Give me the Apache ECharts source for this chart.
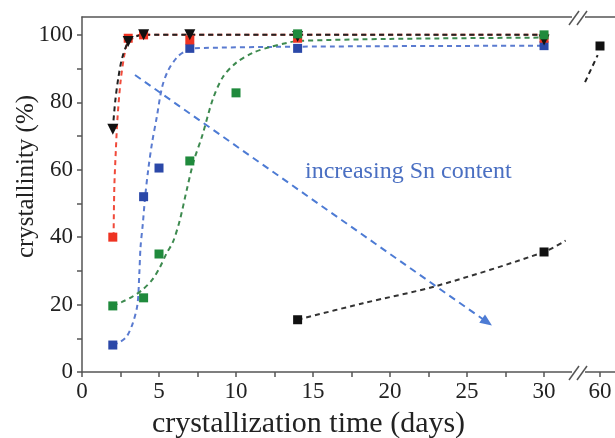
<!DOCTYPE html>
<html>
<head>
<meta charset="utf-8">
<script src="https://cdn.jsdelivr.net/npm/echarts@6/dist/echarts.min.js"></script>
<style>
  html, body { margin: 0; padding: 0; background: #fff; }
  #chart { width: 615px; height: 438px; }
</style>
</head>
<body>
<div id="chart"></div>
<script>
// measured points (days, crystallinity %)
var blackTriX = [2, 3, 4, 7, 14, 30];
var blackTriY = [72, 98, 100, 100, 99.5, 98.5];
var blackFitX = [2, 2.15, 2.35, 2.6, 3, 3.5, 4, 7, 14, 30];
var blackFitY = [72, 80, 87, 93, 97.8, 99.5, 100, 100, 100, 100];

var redX = [2, 3, 4, 7, 14, 30];
var redY = [40, 99, 100, 98.5, 99, 99];
var redFitX = [2.05, 2.1, 2.2, 2.3, 2.5, 2.75, 3, 3.5, 4, 7, 14, 30];
var redFitY = [40, 55, 66, 75, 86, 94, 98, 99.7, 100, 100, 100, 100];

var blueX = [2, 4, 5, 7, 14, 30];
var blueY = [8, 52, 60.5, 96, 96, 96.8];
var blueFitX = [2, 2.5, 2.9, 3.3, 3.6, 3.72, 3.8, 3.95, 4.1, 4.3, 4.55, 4.85, 5.2, 5.6, 6.2, 6.8, 7, 14, 30];
var blueFitY = [8, 9, 10.5, 14.5, 20, 29, 37, 44, 52, 60, 68, 75.5, 84.5, 89.5, 93.5, 95.5, 96, 96.5, 96.8];

var greenX = [2, 4, 5, 7, 10, 14, 30];
var greenY = [19.6, 22, 35, 62.6, 82.8, 100.3, 100];
var greenFitX = [2, 2.6, 3.25, 3.9, 4.55, 5.05, 5.5, 5.9, 6.35, 6.8, 7.25, 7.8, 8.5, 9.15, 10, 11.1, 12.2, 13.3, 14, 20, 30];
var greenFitY = [19.6, 20.8, 22.3, 24.3, 27.3, 31, 35.3, 38.5, 45, 54, 62.5, 70, 81, 87.5, 91.7, 94.7, 96.4, 97.6, 98.2, 98.8, 99.2];

var lowX = [14, 30];
var lowY = [15.5, 35.6];
var lowFitX = [14, 18.25, 23, 30, 31.4];
var lowFitY = [15.5, 20.4, 25.5, 35.6, 39];

// right-hand segment after the axis break
var farX = [60];
var farY = [96.7];
var farFitX = [59.03, 59.85];
var farFitY = [86, 94];

var arrowFrom = [3.44, 88.1];
var arrowTo = [26.3, 14.8];

var xTicks = [0, 2.5, 5, 7.5, 10, 12.5, 15, 17.5, 20, 22.5, 25, 27.5, 30];
var xLabels = [0, 5, 10, 15, 20, 25, 30];
var yTicks = [0, 10, 20, 30, 40, 50, 60, 70, 80, 90, 100];
var yLabels = [0, 20, 40, 60, 80, 100];

function pairs(xs, ys) {
  return xs.map(function (x, i) { return [x, ys[i]]; });
}

var font = 'Liberation Serif';
var axisColor = '#555';

function fit(name, xs, ys, color, idx) {
  return {
    name: name, type: 'line', data: pairs(xs, ys), smooth: 0.3,
    xAxisIndex: idx || 0, yAxisIndex: idx || 0,
    symbol: 'none', z: 2,
    lineStyle: {color: color, width: 2, type: [5, 4]}
  };
}

function dots(name, xs, ys, color, shape, size, z, idx) {
  return {
    name: name, type: 'scatter', data: pairs(xs, ys),
    xAxisIndex: idx || 0, yAxisIndex: idx || 0,
    symbol: shape, symbolSize: size, symbolRotate: shape === 'triangle' ? 180 : 0,
    z: z, itemStyle: {color: color, opacity: 1}
  };
}

var chart = echarts.init(document.getElementById('chart'));
var option = {
  animation: false,
  grid: [
    {left: 82, top: 17, width: 493, height: 355, containLabel: false, outerBoundsMode: 'none'},
    {left: 575, top: 17, width: 40, height: 355, containLabel: false, outerBoundsMode: 'none'}
  ],
  xAxis: [
    {
      gridIndex: 0, type: 'value', min: 0, max: 32.01,
      name: 'crystallization time (days)', nameLocation: 'middle', nameGap: 37,
      nameTextStyle: {fontFamily: font, fontSize: 30, color: '#222', padding: [0, 40, 0, 0]},
      axisLine: {lineStyle: {color: axisColor, width: 1.5}},
      axisTick: {customValues: xTicks, length: 5, lineStyle: {color: axisColor, width: 1.5}},
      axisLabel: {customValues: xLabels, fontFamily: font, fontSize: 23, color: '#222', margin: 8},
      splitLine: {show: false}
    },
    {
      gridIndex: 1, type: 'value', min: 58.377, max: 60.974,
      axisLine: {lineStyle: {color: axisColor, width: 1.5}},
      axisTick: {customValues: [60], length: 5, lineStyle: {color: axisColor, width: 1.5}},
      axisLabel: {customValues: [60], fontFamily: font, fontSize: 23, color: '#222', margin: 8},
      splitLine: {show: false}
    },
    {
      gridIndex: 0, type: 'value', position: 'top', min: 0, max: 32.01,
      axisLine: {lineStyle: {color: axisColor, width: 1.5}},
      axisTick: {show: false}, axisLabel: {show: false}, splitLine: {show: false}
    },
    {
      gridIndex: 1, type: 'value', position: 'top', min: 58.377, max: 60.974,
      axisLine: {lineStyle: {color: axisColor, width: 1.5}},
      axisTick: {show: false}, axisLabel: {show: false}, splitLine: {show: false}
    }
  ],
  yAxis: [
    {
      gridIndex: 0, type: 'value', min: 0, max: 105.3,
      name: 'crystallinity (%)', nameLocation: 'middle', nameGap: 43, nameRotate: 90,
      nameMoveOverlap: false,
      nameTextStyle: {fontFamily: font, fontSize: 25, color: '#222', padding: [0, 0, 0, 36]},
      axisLine: {show: true, lineStyle: {color: axisColor, width: 1.5}},
      axisTick: {customValues: yTicks, length: 5, lineStyle: {color: axisColor, width: 1.5}},
      axisLabel: {customValues: yLabels, fontFamily: font, fontSize: 23, color: '#222', margin: 9},
      splitLine: {show: false}
    },
    {
      gridIndex: 1, type: 'value', min: 0, max: 105.3, show: false
    }
  ],
  graphic: [
    {type: 'rect', shape: {x: 572, y: 14, width: 13, height: 6}, style: {fill: '#fff'}, z: 100},
    {type: 'rect', shape: {x: 572, y: 369, width: 13, height: 6}, style: {fill: '#fff'}, z: 100},
    {type: 'line', shape: {x1: 569, y1: 25, x2: 579, y2: 11}, style: {stroke: axisColor, lineWidth: 1.5}, z: 101},
    {type: 'line', shape: {x1: 577, y1: 25, x2: 587, y2: 11}, style: {stroke: axisColor, lineWidth: 1.5}, z: 101},
    {type: 'line', shape: {x1: 569, y1: 380, x2: 579, y2: 366}, style: {stroke: axisColor, lineWidth: 1.5}, z: 101},
    {type: 'line', shape: {x1: 577, y1: 380, x2: 587, y2: 366}, style: {stroke: axisColor, lineWidth: 1.5}, z: 101},
    {
      type: 'text', left: 305, top: 160, z: 50,
      style: {text: 'increasing Sn content', font: '24px "Liberation Serif"', fill: '#4a6fc2'}
    }
  ],
  series: [
    fit('blue fit', blueFitX, blueFitY, '#5a7bd0'),
    fit('green fit', greenFitX, greenFitY, '#3d8a4f'),
    fit('red fit', redFitX, redFitY, '#f04a3a'),
    fit('black fit', blackFitX, blackFitY, '#222'),
    fit('low fit', lowFitX, lowFitY, '#333'),
    fit('far fit', farFitX, farFitY, '#222', 1),
    {
      name: 'arrow', type: 'line', data: [], z: 3,
      markLine: {
        silent: true, symbol: ['none', 'triangle'], symbolSize: [10, 12],
        label: {show: false},
        lineStyle: {color: '#4d7bd4', width: 2, type: [7, 5]},
        data: [[{coord: arrowFrom}, {coord: arrowTo}]]
      }
    },
    dots('blue', blueX, blueY, '#2b48a8', 'rect', 9, 5),
    dots('red', redX, redY, '#ee3322', 'rect', 9, 6),
    dots('black', blackTriX, blackTriY, '#111', 'triangle', 11, 7),
    dots('green', greenX, greenY, '#1f8a3c', 'rect', 9, 8),
    dots('low', lowX, lowY, '#111', 'rect', 9, 8),
    dots('far', farX, farY, '#111', 'rect', 9, 8, 1)
  ]
};
chart.setOption(option);
</script>
</body>
</html>
